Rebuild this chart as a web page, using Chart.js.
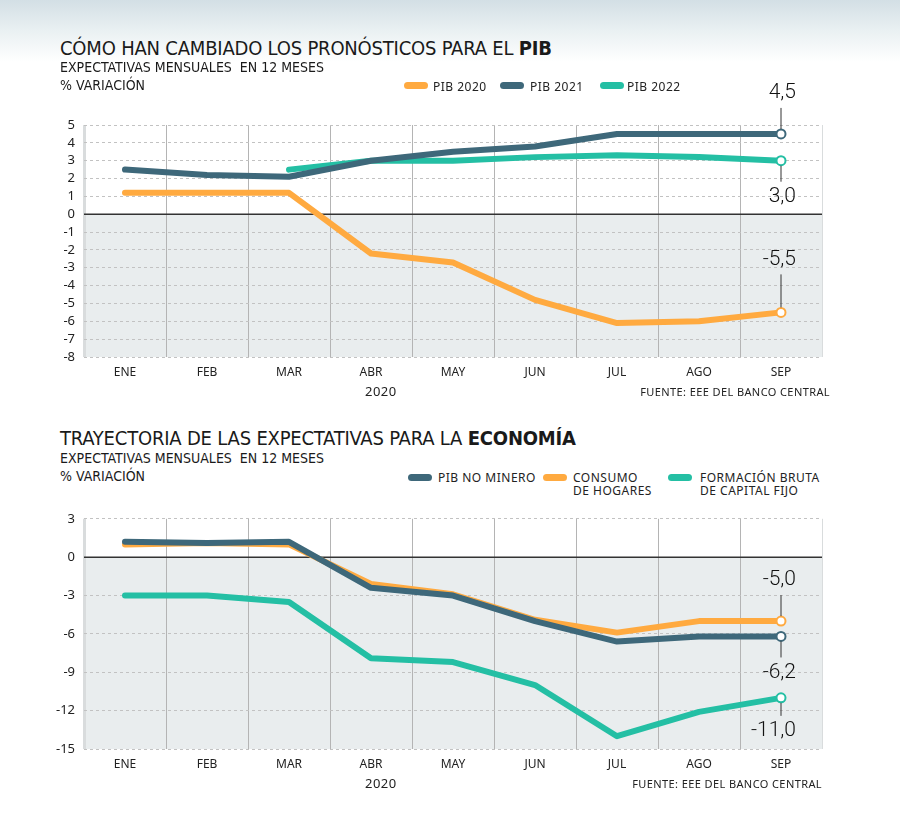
<!DOCTYPE html>
<html>
<head>
<meta charset="utf-8">
<script src="https://cdn.jsdelivr.net/npm/chart.js@4.4.0/dist/chart.umd.min.js"></script>
<style>
  body { margin: 0; background: #fff; }
  #lienzo {
    position: relative; width: 900px; height: 837px; overflow: hidden;
    background: linear-gradient(#d3dfe5 0px, #e9f0f2 30px, #fff 62px);
    font-family: "Noto Sans", sans-serif; color: #222;
  }
  .t { position: absolute; white-space: nowrap; line-height: 1; z-index: 2; }
  .titulo { font-family: "Liberation Sans Narrow", "DejaVu Sans Condensed", sans-serif; font-size: 20px; letter-spacing: -0.2px; color: #1a1a1a; }
  .titulo b { font-weight: 700; }
  .sub { font-family: "Liberation Sans Narrow", "DejaVu Sans Condensed", sans-serif; font-size: 14px; color: #1a1a1a; }
  .leg { font-size: 12px; letter-spacing: 0.5px; color: #222; line-height: 13px; }
  .pill { position: absolute; width: 24px; height: 7px; border-radius: 4px; z-index: 2; }
  .nota { font-size: 11px; letter-spacing: 0.4px; color: #222; }
  .anio { font-size: 13px; letter-spacing: 0.5px; color: #222; }
  canvas { position: absolute; left: 0; z-index: 1; }
</style>
</head>
<body>
<div id="lienzo">
  <div class="t titulo" style="left:60px;top:38px">CÓMO HAN CAMBIADO LOS PRONÓSTICOS PARA EL <b>PIB</b></div>
  <div class="t sub" style="left:60px;top:60px">EXPECTATIVAS MENSUALES&nbsp; EN 12 MESES</div>
  <div class="t sub" style="left:60px;top:78px">% VARIACIÓN</div>

  <div class="pill" style="left:404px;top:82px;background:#ffaa40"></div>
  <div class="t leg" style="left:433px;top:80px">PIB 2020</div>
  <div class="pill" style="left:500px;top:82px;background:#3e687a"></div>
  <div class="t leg" style="left:530px;top:80px">PIB 2021</div>
  <div class="pill" style="left:600px;top:82px;background:#24bfa4"></div>
  <div class="t leg" style="left:627px;top:80px">PIB 2022</div>

  <canvas id="grafPib" width="900" height="340" style="top:70px"></canvas>
  <div class="t anio" style="left:365px;top:385px">2020</div>
  <div class="t nota" style="right:70px;top:386px">FUENTE: EEE DEL BANCO CENTRAL</div>

  <div class="t titulo" style="left:60px;top:428px">TRAYECTORIA DE LAS EXPECTATIVAS PARA LA <b>ECONOMÍA</b></div>
  <div class="t sub" style="left:60px;top:451px">EXPECTATIVAS MENSUALES&nbsp; EN 12 MESES</div>
  <div class="t sub" style="left:60px;top:469px">% VARIACIÓN</div>

  <div class="pill" style="left:408px;top:474px;background:#3e687a"></div>
  <div class="t leg" style="left:438px;top:471px">PIB NO MINERO</div>
  <div class="pill" style="left:543px;top:474px;background:#ffaa40"></div>
  <div class="t leg" style="left:573px;top:471px">CONSUMO<br>DE HOGARES</div>
  <div class="pill" style="left:668px;top:474px;background:#24bfa4"></div>
  <div class="t leg" style="left:700px;top:471px">FORMACIÓN BRUTA<br>DE CAPITAL FIJO</div>

  <canvas id="grafEco" width="900" height="300" style="top:502px"></canvas>
  <div class="t anio" style="left:365px;top:777px">2020</div>
  <div class="t nota" style="right:78px;top:778px">FUENTE: EEE DEL BANCO CENTRAL</div>
</div>

<script>
const meses = ['ENE', 'FEB', 'MAR', 'ABR', 'MAY', 'JUN', 'JUL', 'AGO', 'SEP'];

// grafico 1: pronosticos PIB
const pib2020 = [1.2, 1.2, 1.2, -2.2, -2.7, -4.8, -6.1, -6.0, -5.5];
const pib2021 = [2.5, 2.2, 2.1, 3.0, 3.5, 3.8, 4.5, 4.5, 4.5];
const pib2022 = [null, null, 2.5, 3.0, 3.0, 3.2, 3.3, 3.2, 3.0];

// grafico 2: expectativas economia
const pibNoMinero = [1.2, 1.1, 1.2, -2.4, -3.0, -5.0, -6.6, -6.2, -6.2];
const consumoHogares = [1.0, 1.1, 1.0, -2.1, -2.9, -4.9, -5.9, -5.0, -5.0];
const formacionBruta = [-3.0, -3.0, -3.5, -7.9, -8.2, -10.0, -14.0, -12.1, -11.0];

const NARANJA = '#ffaa40';
const PIZARRA = '#3e687a';
const TURQUESA = '#24bfa4';

function formato(v) {
  return v.toFixed(1).replace('.', ',');
}

// zona gris bajo el cero y linea del cero
const fondoCero = {
  id: 'fondoCero',
  beforeDraw(chart) {
    const { ctx, chartArea: a, scales } = chart;
    const y0 = scales.y.getPixelForValue(0);
    ctx.save();
    ctx.fillStyle = '#e9edee';
    ctx.fillRect(a.left, y0, a.right - a.left, a.bottom - y0);
    ctx.restore();
  },
  beforeDatasetsDraw(chart) {
    const { ctx, chartArea: a, scales } = chart;
    const y0 = scales.y.getPixelForValue(0);
    ctx.save();
    ctx.strokeStyle = '#333';
    ctx.lineWidth = 1.5;
    ctx.beginPath();
    ctx.moveTo(a.left, y0);
    ctx.lineTo(a.right, y0);
    ctx.stroke();
    ctx.restore();
  }
};

// valor final con linea guia
const etiquetasFinales = {
  id: 'etiquetasFinales',
  afterDatasetsDraw(chart) {
    const ctx = chart.ctx;
    chart.data.datasets.forEach((ds, i) => {
      const n = ds.data.length - 1;
      const p = chart.getDatasetMeta(i).data[n];
      const lado = ds.etiqueta.lado;
      const ty = p.y + lado * ds.etiqueta.dist;
      ctx.save();
      ctx.strokeStyle = '#333';
      ctx.lineWidth = 1;
      ctx.beginPath();
      ctx.moveTo(p.x, p.y + lado * 5);
      ctx.lineTo(p.x, ty - lado * 15);
      ctx.stroke();
      ctx.font = '300 21px Roboto, "Noto Sans", sans-serif';
      ctx.fillStyle = '#111';
      ctx.textAlign = 'right';
      ctx.textBaseline = 'middle';
      ctx.fillText(formato(ds.data[n]), p.x + 15, ty);
      ctx.restore();
    });
  }
};

function serie(nombre, datos, color, etiqueta) {
  const ultimo = datos.length - 1;
  return {
    label: nombre,
    data: datos,
    borderColor: color,
    backgroundColor: color,
    borderWidth: 6,
    borderCapStyle: 'round',
    borderJoinStyle: 'round',
    tension: 0,
    pointRadius: c => c.dataIndex === ultimo ? 4.5 : 0,
    pointHoverRadius: c => c.dataIndex === ultimo ? 4.5 : 0,
    pointBackgroundColor: '#fff',
    pointBorderColor: color,
    pointBorderWidth: 2,
    etiqueta: etiqueta
  };
}

function opciones(min, max, paso, arriba) {
  return {
    responsive: false,
    animation: false,
    layout: { padding: { top: arriba, right: 78, left: 0, bottom: 0 } },
    plugins: { legend: { display: false }, tooltip: { enabled: false } },
    scales: {
      x: {
        offset: true,
        afterFit(s) { s.height = 53; },
        grid: {
          offset: true,
          drawTicks: false,
          color: c => (c.index === 0 || c.tick === undefined) ? '#d9dcdd' : '#b4b4b4',
          lineWidth: c => (c.index === 0) ? 3 : 1
        },
        border: { display: false },
        ticks: { padding: 8, color: '#222', font: { family: 'Noto Sans', size: 12 } }
      },
      y: {
        min: min,
        max: max,
        afterFit(s) { s.width = 84; },
        grid: { drawTicks: false, color: '#c2c2c2', lineWidth: 1 },
        border: { display: false, dash: [3, 3] },
        ticks: {
          stepSize: paso,
          maxTicksLimit: 30,
          autoSkip: false,
          padding: 9,
          color: '#222',
          font: { family: 'Noto Sans', size: 13 }
        }
      }
    }
  };
}

new Chart(document.getElementById('grafPib'), {
  type: 'line',
  data: {
    labels: meses,
    datasets: [
      serie('PIB 2020', pib2020, NARANJA, { lado: -1, dist: 53 }),
      serie('PIB 2021', pib2021, PIZARRA, { lado: -1, dist: 41 }),
      serie('PIB 2022', pib2022, TURQUESA, { lado: 1, dist: 36 })
    ]
  },
  options: opciones(-8, 5, 1, 55),
  plugins: [fondoCero, etiquetasFinales]
});

new Chart(document.getElementById('grafEco'), {
  type: 'line',
  data: {
    labels: meses,
    datasets: [
      serie('PIB NO MINERO', pibNoMinero, PIZARRA, { lado: 1, dist: 36 }),
      serie('CONSUMO DE HOGARES', consumoHogares, NARANJA, { lado: -1, dist: 41 }),
      serie('FORMACIÓN BRUTA DE CAPITAL FIJO', formacionBruta, TURQUESA, { lado: 1, dist: 33 })
    ]
  },
  options: opciones(-15, 3, 3, 15),
  plugins: [fondoCero, etiquetasFinales]
});
</script>
</body>
</html>
